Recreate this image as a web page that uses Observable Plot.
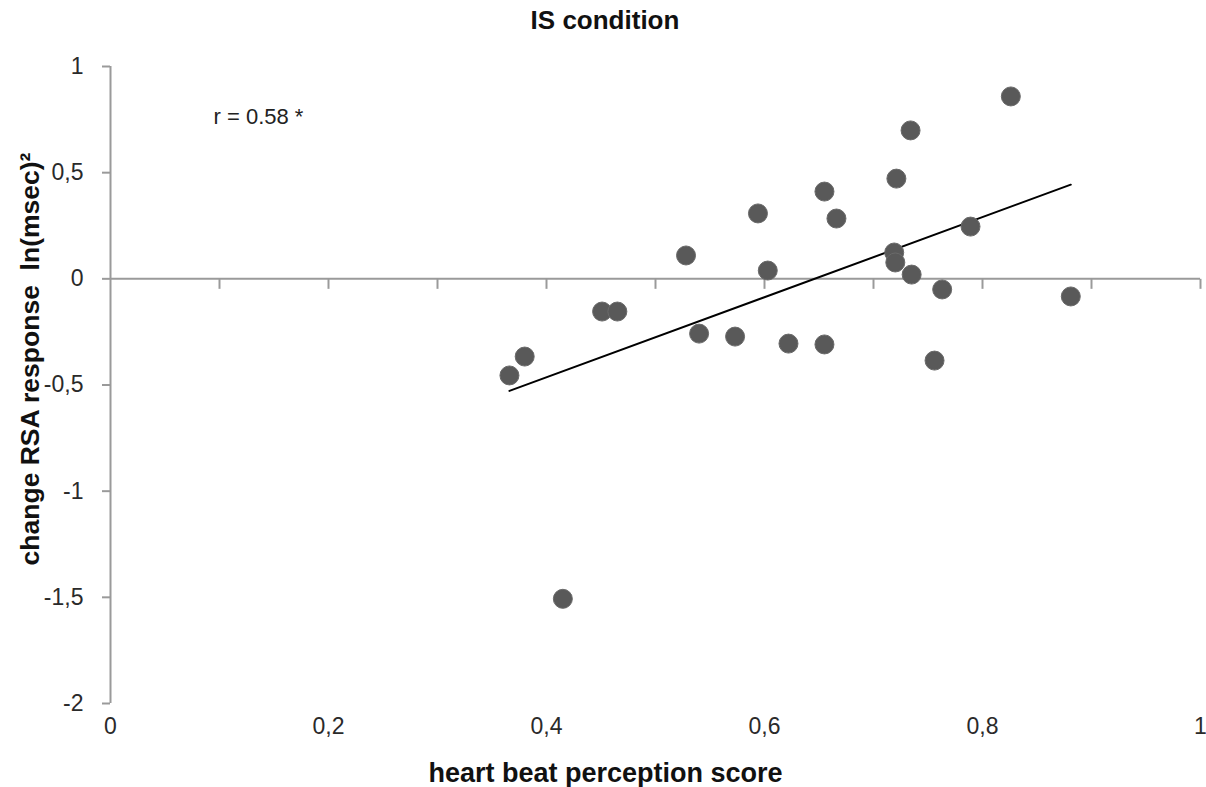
<!DOCTYPE html>
<html><head><meta charset="utf-8">
<script src="https://cdn.jsdelivr.net/npm/d3@7"></script>
<script src="https://cdn.jsdelivr.net/npm/@observablehq/plot@0.6"></script>
<style>
body{margin:0;background:#fff;font-family:"Liberation Sans",Arial,sans-serif;}
#title{height:40px;width:1206px;text-align:center;font-weight:bold;font-size:26px;line-height:40px;color:#111;padding-left:4px;box-sizing:border-box;}
#chart svg{display:block;}
</style></head><body>
<div id="title"></div>
<div id="chart"></div>
<script>
// heart beat perception score (x) and change RSA response (y)
const score = [0.826,0.734,0.721,0.655,0.666,0.594,0.789,0.719,0.720,0.528,0.603,0.735,0.763,0.881,0.451,0.465,0.540,0.573,0.622,0.655,0.756,0.380,0.366,0.415];
const rsa   = [0.859,0.699,0.472,0.411,0.284,0.308,0.246,0.124,0.077,0.110,0.039,0.020,-0.050,-0.083,-0.154,-0.154,-0.258,-0.272,-0.305,-0.309,-0.385,-0.366,-0.455,-1.507];
const yTicks = [1,0.5,0,-0.5,-1,-1.5,-2];
const xLabelTicks = [0,0.2,0.4,0.6,0.8,1];
const xTickMarks = [0.1,0.2,0.3,0.4,0.5,0.6,0.7,0.8,0.9,1];
const titleText = "IS condition";
const xLabel = "heart beat perception score";
const yLabel = "change RSA response  ln(msec)\u00B2";
const annotation = "r = 0.58 *";

document.getElementById("title").textContent = titleText;
const data = score.map((x, i) => ({x, y: rsa[i]}));
const comma = d => String(d).replace(".", ",");
const tickDown = {draw(ctx) { ctx.moveTo(0, 0); ctx.lineTo(0, 10); }};
const axisGray = "#9a9a9a";
const font = "'Liberation Sans', Arial, sans-serif";

const chart = Plot.plot({
  width: 1206, height: 747,
  marginLeft: 110, marginRight: 6, marginTop: 26, marginBottom: 84,
  x: {domain: [0, 1]},
  y: {domain: [-2, 1]},
  style: {fontFamily: font, background: "white"},
  marks: [
    Plot.ruleX([0], {stroke: axisGray, strokeWidth: 2}),
    Plot.ruleY([0], {stroke: axisGray, strokeWidth: 2}),
    Plot.dot(xTickMarks, {x: d => d, y: 0, symbol: tickDown, stroke: axisGray, strokeWidth: 2, fill: "none"}),
    Plot.axisY({ticks: yTicks, tickFormat: comma, tickSize: 8, tickPadding: 19, stroke: axisGray, strokeWidth: 2, fill: "#2a2a2a", fontSize: 23, label: null}),
    Plot.axisX({ticks: xLabelTicks, tickFormat: comma, tickSize: 0, tickPadding: 14, fill: "#2a2a2a", fontSize: 23, label: null}),
    Plot.linearRegressionY(data, {x: "x", y: "y", ci: 0, stroke: "black", strokeWidth: 2}),
    Plot.dot(data, {x: "x", y: "y", r: 9.5, fill: "#595959", stroke: "#6a6a6a", strokeWidth: 1}),
    Plot.text([annotation], {frameAnchor: "top-left", dx: 103, dy: 42, textAnchor: "start", fontSize: 22, fill: "#222"}),
    Plot.text([xLabel], {frameAnchor: "bottom", textAnchor: "middle", lineAnchor: "middle", dx: -50, dy: 70, fontSize: 27, fontWeight: "bold", fill: "#111"}),
    Plot.text([yLabel], {frameAnchor: "left", textAnchor: "middle", lineAnchor: "middle", rotate: -90, dx: -80, dy: -26, fontSize: 26.5, fontWeight: "bold", fill: "#111"})
  ]
});
document.getElementById("chart").appendChild(chart);
</script>
</body></html>
